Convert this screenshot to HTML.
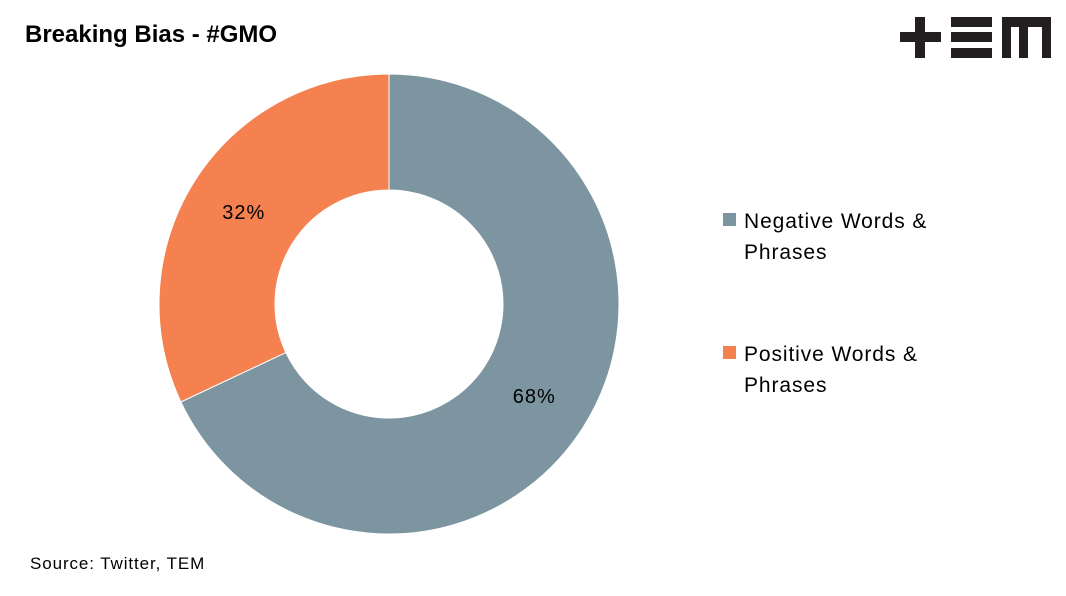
<!DOCTYPE html>
<html><head><meta charset="utf-8"><style>
body{margin:0;width:1066px;height:591px;background:#fff;overflow:hidden;font-family:"Liberation Sans",sans-serif;}
</style></head><body>
<svg width="1066" height="591">
<text x="25" y="42" font-size="24" font-weight="bold" fill="#000">Breaking Bias - #GMO</text>
<g fill="#231f20">
<rect x="900" y="32" width="41" height="10"/><rect x="915" y="17" width="10" height="41"/>
<rect x="951" y="17" width="41" height="10"/><rect x="951" y="32" width="41" height="10"/><rect x="951" y="48" width="41" height="10"/>
<rect x="1002" y="17" width="49" height="10"/><rect x="1002" y="17" width="9" height="41"/><rect x="1019" y="17" width="9" height="41"/><rect x="1042" y="17" width="9" height="41"/>
</g>
<g id="donut"></g>
<g id="legend"></g>
<text x="30" y="569" font-size="17" letter-spacing="0.9" fill="#000">Source: Twitter, TEM</text>
</svg>
<script>
const categories=["Negative Words & Phrases","Positive Words & Phrases"];
const values=[68,32];
const labels=["68%","32%"];
const colors=["#7d95a0","#f4814f"];
const cx=389,cy=304,R=230,r=114;
const ns="http://www.w3.org/2000/svg";
const g=document.getElementById('donut');
const total=values.reduce((a,b)=>a+b,0);
let a0=0;
function pt(rad,a){return [cx+rad*Math.sin(a),cy-rad*Math.cos(a)];}
values.forEach((v,i)=>{
  const a1=a0+v/total*2*Math.PI;
  const [x1,y1]=pt(R,a0),[x2,y2]=pt(R,a1),[x3,y3]=pt(r,a1),[x4,y4]=pt(r,a0);
  const lg=(a1-a0)>Math.PI?1:0;
  const p=document.createElementNS(ns,'path');
  p.setAttribute('d',`M${x1},${y1}A${R},${R} 0 ${lg} 1 ${x2},${y2}L${x3},${y3}A${r},${r} 0 ${lg} 0 ${x4},${y4}Z`);
  p.setAttribute('fill',colors[i]);p.setAttribute('stroke','#fff');p.setAttribute('stroke-width','1');
  
  
  g.appendChild(p);
  const am=(a0+a1)/2;const [lx,ly]=pt((R+r)/2,am);
  const t=document.createElementNS(ns,'text');
  t.setAttribute('x',lx);t.setAttribute('y',ly+7);t.setAttribute('text-anchor','middle');t.setAttribute('font-size','20');t.setAttribute('letter-spacing','1');
  t.textContent=labels[i];
  
  
  g.appendChild(t);
  a0=a1;
});
const lg=document.getElementById('legend');
categories.forEach((c,i)=>{
  const y=213+i*133;
  const s=document.createElementNS(ns,'rect');
  s.setAttribute('x',723);s.setAttribute('y',y);s.setAttribute('width',13);s.setAttribute('height',13);s.setAttribute('fill',colors[i]);
  
  
  lg.appendChild(s);
  const parts=c.split(' ');const l1=parts.slice(0,-1).join(' ');const l2=parts[parts.length-1];
  [l1,l2].forEach((txt,j)=>{
    const t=document.createElementNS(ns,'text');
    t.setAttribute('x',744);t.setAttribute('y',y+15+j*31);t.setAttribute('font-size','21');t.setAttribute('letter-spacing','0.9');
    t.textContent=txt;
    
    
    lg.appendChild(t);
  });
});
</script>
</body></html>
